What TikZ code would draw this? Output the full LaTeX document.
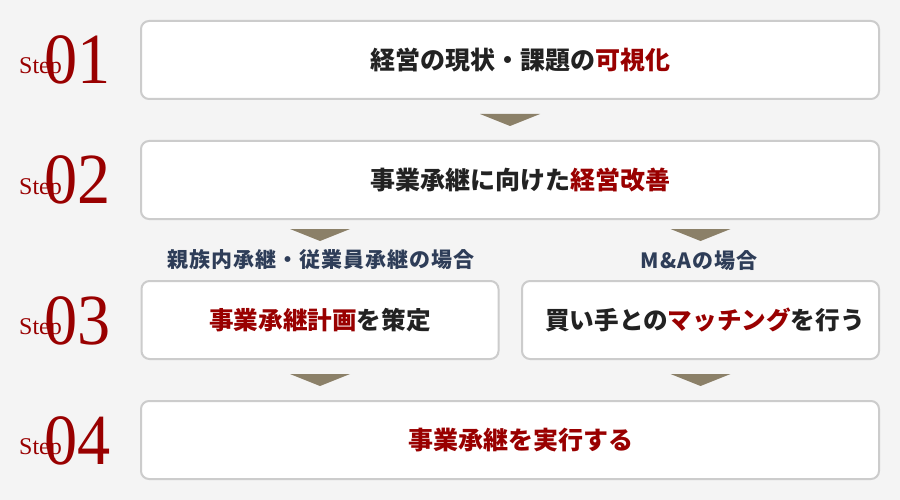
\documentclass[tikz,border=0pt]{standalone}
\usepackage{fontspec}
\newfontfamily\jp{Noto Sans CJK JP}
\newfontfamily\jplab[LetterSpace=5]{Noto Sans CJK JP}
\newfontfamily\stepfont{Liberation Serif}
\usetikzlibrary{calc}
\definecolor{bg}{HTML}{F4F4F4}
\definecolor{boxline}{HTML}{CCCCCC}
\definecolor{txt}{HTML}{222222}
\definecolor{hl}{HTML}{990000}
\definecolor{lab}{HTML}{2E3D58}
\definecolor{tri}{HTML}{8B8068}
\begin{document}
\begin{tikzpicture}[x=1pt,y=-1pt,
  box/.style={draw=boxline, line width=2pt, fill=white, rounded corners=8pt, inner sep=0pt, minimum height=78pt},
  wide/.style={box, minimum width=738pt},
  half/.style={box, minimum width=357pt},
  maintext/.style={font=\jp\bfseries\fontsize{25}{25}\selectfont, text=txt, inner sep=0pt},
  subtext/.style={font=\jp\bfseries\fontsize{24.6}{24.6}\selectfont, text=txt, inner sep=0pt},
  labtext/.style={font=\jplab\bfseries\fontsize{21}{21}\selectfont, text=lab, inner sep=0pt},
  stepword/.style={font=\stepfont\fontsize{24}{24}\selectfont, text=hl, inner sep=0pt, anchor=base west},
  stepnum/.style={font=\stepfont\fontsize{72}{72}\selectfont, text=hl, inner sep=0pt, anchor=base west, xscale=0.92},
  trimark/.style={fill=tri}
]
\fill[bg] (0,0) rectangle (900,500);
\useasboundingbox (0,0) rectangle (900,500);

% boxes
\node[wide] (b1) at (510,60) {};
\node[wide] (b2) at (510,180) {};
\node[half] (b3a) at (320,320) {};
\node[half] (b3b) at (700.5,320) {};
\node[wide] (b4) at (510,440) {};

% texts
\node[maintext] (t1) at (520,60) {経営の現状・課題の\textcolor{hl}{可視化}};
\node[maintext] (t2) at (520,180) {事業承継に向けた\textcolor{hl}{経営改善}};
\node[subtext] (t3a) at (320,320) {\textcolor{hl}{事業承継計画}を策定};
\node[subtext] (t3b) at (705,320) {買い手との\textcolor{hl}{マッチング}を行う};
\node[maintext, text=hl] (t4) at (521,440) {事業承継を実行する};

% labels
\node[labtext] (l1) at (321,260) {親族内承継・従業員承継の場合};
\node[labtext] (l2) at (699,261) {M\&Aの場合};

% triangles
\fill[trimark] ($(b1.south)+(-30,14)$) -- ++(60,0) -- ++(-30,12) -- cycle;
\fill[trimark] ($(b3a.north |- b2.south)+(-30,9)$) -- ++(60,0) -- ++(-30,12) -- cycle;
\fill[trimark] ($(b3b.north |- b2.south)+(-30,9)$) -- ++(60,0) -- ++(-30,12) -- cycle;
\fill[trimark] ($(b3a.south)+(-30,14)$) -- ++(60,0) -- ++(-30,12) -- cycle;
\fill[trimark] ($(b3b.south)+(-30,14)$) -- ++(60,0) -- ++(-30,12) -- cycle;

% step labels
\node[stepnum] (n1) at (44,84) {01};
\node[stepword] (s1) at (19,74) {Step};
\node[stepnum] (n2) at (44,204) {02};
\node[stepword] (s2) at (19,194) {Step};
\node[stepnum] (n3) at (44,344) {03};
\node[stepword] (s3) at (19,334) {Step};
\node[stepnum] (n4) at (44,464) {04};
\node[stepword] (s4) at (19,454) {Step};
\end{tikzpicture}
\end{document}
